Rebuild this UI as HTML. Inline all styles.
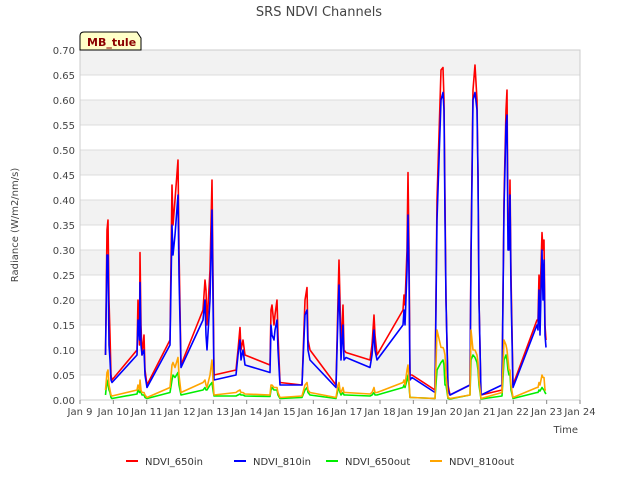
<!DOCTYPE html>
<html><head><meta charset="utf-8"><style>
body{margin:0;background:#fff;font-family:"Liberation Sans","DejaVu Sans",sans-serif}
</style></head><body>
<svg id="chart" width="640" height="480" xmlns="http://www.w3.org/2000/svg" font-family="DejaVu Sans, Liberation Sans, sans-serif">
<rect width="640" height="480" fill="#fff"/>
<text x="319" y="16" text-anchor="middle" font-size="13" fill="#444">SRS NDVI Channels</text>
<g id="grid"></g><g id="axes"></g><g id="series"></g>
<g>
<path d="M80,50 L80,36 Q80,32 84,32 L137,32 L141,38 L141,50 Z" fill="#ffffc8" stroke="#000" stroke-width="1"/>
<text x="87" y="46" font-size="11" font-weight="bold" fill="#8b0000">MB_tule</text></g>
<text transform="translate(18,225) rotate(-90)" text-anchor="middle" font-size="10" fill="#444">Radiance (W/m2/nm/s)</text>
<text x="578" y="433" text-anchor="end" font-size="10" fill="#444">Time</text>
<g id="legend"></g>
</svg>
<script>
const T=[0.765,0.81,0.84,0.87,0.90,0.93,0.96,1.71,1.74,1.785,1.80,1.83,1.86,1.92,1.95,2.01,2.70,2.76,2.79,2.85,2.94,2.97,3.03,3.69,3.75,3.78,3.81,3.90,3.96,3.99,4.02,4.68,4.74,4.80,4.83,4.89,4.95,5.70,5.73,5.76,5.82,5.85,5.91,5.94,6.00,6.66,6.75,6.81,6.84,6.90,7.68,7.74,7.77,7.80,7.83,7.89,7.92,7.98,8.70,8.76,8.82,8.85,8.91,9.69,9.72,9.75,9.81,9.84,9.87,9.90,9.96,10.65,10.71,10.83,10.89,10.92,10.95,10.98,11.04,11.10,11.70,11.73,11.79,11.85,11.91,11.94,11.97,12.03,12.66,12.72,12.78,12.81,12.84,12.87,12.90,12.93,12.99,13.71,13.74,13.77,13.80,13.86,13.89,13.92,13.95,13.98];
const R=[.09,.34,.36,.2,.13,.05,.04,.1,.2,.11,.295,.15,.09,.13,.06,.03,.12,.43,.35,.4,.48,.3,.07,.18,.24,.22,.15,.26,.44,.25,.05,.06,.1,.145,.1,.12,.09,.07,.18,.19,.15,.17,.2,.13,.035,.03,.2,.225,.12,.1,.03,.2,.28,.2,.1,.19,.1,.095,.08,.11,.17,.13,.09,.18,.21,.19,.3,.455,.3,.05,.05,.02,.4,.66,.665,.6,.4,.2,.03,.01,.03,.3,.62,.67,.6,.45,.2,.01,.02,.4,.58,.62,.35,.3,.44,.25,.03,.16,.16,.25,.2,.335,.3,.32,.15,.12];
const B=[.09,.29,.29,.11,.08,.04,.035,.09,.16,.12,.235,.11,.09,.1,.05,.025,.11,.35,.29,.33,.41,.25,.065,.16,.2,.13,.1,.2,.38,.2,.04,.05,.09,.12,.08,.1,.07,.055,.15,.13,.12,.14,.16,.1,.03,.03,.17,.18,.1,.08,.025,.17,.23,.16,.08,.15,.08,.085,.065,.09,.14,.1,.08,.15,.18,.15,.26,.37,.25,.04,.045,.015,.36,.6,.615,.58,.36,.2,.02,.01,.03,.28,.6,.615,.58,.45,.2,.01,.03,.38,.55,.57,.3,.3,.41,.22,.025,.15,.14,.22,.13,.3,.2,.28,.13,.105];
const G=[.01,.04,.03,.02,.015,.005,.003,.012,.02,.015,.025,.015,.01,.01,.005,.003,.015,.04,.05,.045,.055,.03,.01,.02,.025,.02,.02,.03,.035,.02,.008,.008,.01,.012,.01,.01,.008,.007,.02,.025,.02,.02,.02,.01,.003,.005,.02,.025,.015,.01,.003,.02,.025,.015,.01,.015,.01,.01,.008,.01,.015,.01,.01,.025,.03,.025,.04,.05,.03,.005,.005,.003,.06,.075,.08,.07,.03,.03,.003,.002,.01,.08,.09,.085,.075,.06,.03,.002,.008,.08,.09,.08,.06,.05,.05,.02,.003,.015,.015,.02,.018,.025,.022,.02,.015,.012];
const O=[.02,.055,.06,.03,.02,.01,.008,.02,.03,.02,.04,.02,.015,.015,.01,.005,.025,.07,.075,.065,.085,.05,.015,.035,.04,.03,.025,.05,.08,.04,.01,.015,.018,.02,.015,.015,.012,.01,.03,.03,.025,.025,.025,.015,.005,.008,.03,.035,.02,.015,.005,.03,.035,.02,.015,.025,.015,.015,.012,.015,.025,.015,.015,.035,.04,.03,.06,.07,.04,.005,.005,.003,.14,.105,.105,.1,.09,.05,.005,.003,.01,.14,.1,.1,.09,.075,.04,.003,.015,.12,.11,.1,.08,.06,.06,.03,.005,.025,.025,.035,.03,.05,.045,.045,.02,.02];
const yTicks=[0,0.05,0.1,0.15,0.2,0.25,0.3,0.35,0.4,0.45,0.5,0.55,0.6,0.65,0.7];
const xTickLabels=["Jan 9","Jan 10","Jan 11","Jan 12","Jan 13","Jan 14","Jan 15","Jan 16","Jan 17","Jan 18","Jan 19","Jan 20","Jan 21","Jan 22","Jan 23","Jan 24"];
const seriesNames=["NDVI_650in","NDVI_810in","NDVI_650out","NDVI_810out"];
const seriesColors=["#ff0000","#0000ff","#00ee00","#ffa500"];
const X0=80,X1=580,Y0=400,Y1=50;
const xs=d=>X0+d*(X1-X0)/15, ys=v=>Y0-v*(Y0-Y1)/0.7;
const NS="http://www.w3.org/2000/svg";
function mk(tag,attrs,parent){const e=document.createElementNS(NS,tag);for(const k in attrs)e.setAttribute(k,attrs[k]);parent.appendChild(e);return e;}
const grid=document.getElementById('grid'),axes=document.getElementById('axes'),ser=document.getElementById('series'),leg=document.getElementById('legend');
for(let i=0;i<yTicks.length-1;i++){if(i%2===1){const r=mk('rect',{x:X0,y:ys(yTicks[i+1]),width:X1-X0,height:ys(yTicks[i])-ys(yTicks[i+1]),fill:'#f2f2f2'},grid);

}}
yTicks.forEach(v=>{mk('line',{x1:X0,x2:X1,y1:ys(v),y2:ys(v),stroke:'#dcdcdc','stroke-width':1},grid);
const t=mk('text',{x:X0-5,y:ys(v)+4,'text-anchor':'end','font-size':10,fill:'#444'},axes);t.textContent=v.toFixed(2);

});
mk('rect',{x:X0,y:Y1,width:X1-X0,height:Y0-Y1,fill:'none',stroke:'#ccc'},grid);
xTickLabels.forEach((l,i)=>{mk('line',{x1:xs(i),x2:xs(i),y1:Y0,y2:Y0+4,stroke:'#888'},axes);
const t=mk('text',{x:xs(i),y:Y0+15,'text-anchor':'middle','font-size':10,fill:'#444'},axes);t.textContent=l;

});
[R,B,G,O].forEach((vals,si)=>{const d=vals.map((v,i)=>(i?'L':'M')+xs(T[i]).toFixed(1)+','+ys(v).toFixed(1)).join('');
const p=mk('path',{d:d,fill:'none',stroke:seriesColors[si],'stroke-width':1.6,'stroke-linejoin':'round'},ser);

});
const lx=[126,234,326,430];
seriesNames.forEach((n,i)=>{const g=mk('g',{},leg);


mk('line',{x1:lx[i],x2:lx[i]+12,y1:461,y2:461,stroke:seriesColors[i],'stroke-width':2},g);
const t=mk('text',{x:lx[i]+19,y:465,'font-size':10,fill:'#333'},g);t.textContent=n;});
</script>
</body></html>
